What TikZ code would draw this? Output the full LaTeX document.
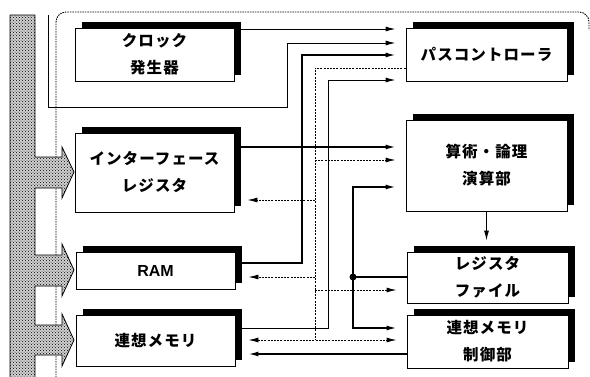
\documentclass[tikz,border=0pt]{standalone}
\usepackage{fontspec}
\newfontfamily\jpfont{Noto Sans CJK JP}[LetterSpace=7]
\newfontfamily\hvfont{Liberation Sans}
\usetikzlibrary{arrows.meta,patterns,shadows,calc}
\begin{document}
\begin{tikzpicture}[x=1pt,y=-1pt,
  blk/.style={draw,line width=0.9pt,fill=white,minimum width=159pt,inner sep=0pt,align=center,
    font=\jpfont\bfseries\fontsize{15.5}{27}\selectfont,
    drop shadow={shadow xshift=6.5pt,shadow yshift=6.5pt,fill=black,opacity=1}},
  ln/.style={line width=1pt},
  thk/.style={line width=1.5pt},
  dsh/.style={line width=0.9pt,dash pattern=on 2pt off 1.2pt},
  arr/.style={-{Latex[length=10pt,width=5pt]},shorten >=10pt},
  arrl/.style={-{Latex[length=10pt,width=5pt]},shorten >=13pt},
  frm/.style={line width=0.9pt,dash pattern=on 1.5pt off 1pt,rounded corners=10pt},
  jdot/.style={circle,fill=black,inner sep=0pt,minimum size=7pt}
]
\useasboundingbox (0,0) rectangle (590,376);

% dashed frame
\draw[frm] (56,385) -- (56,12) -- (589,12) -- (589,30);

% bus
\draw[line width=0.8pt,preaction={fill=black!18},pattern=crosshatch dots,pattern color=black]
  (10,385) -- (10,15) -- (35,15)
  -- (35,157) -- (62,157) -- (62,147) -- (74,172) -- (62,198) -- (62,188) -- (35,188)
  -- (35,255) -- (62,255) -- (62,244) -- (74,270) -- (62,296) -- (62,286) -- (35,286)
  -- (35,325) -- (62,325) -- (62,314) -- (74,340) -- (62,366) -- (62,355) -- (35,355)
  -- (35,385);

% boxes
\node[blk,minimum height=53pt] (clk) at (154.5,54.5) {クロック\\発生器};
\node[blk,minimum width=161pt,minimum height=53pt] (bc) at (486.5,54.5) {パスコントローラ};
\node[blk,minimum height=79pt] (ifr) at (154.5,172.5) {インターフェース\\レジスタ};
\node[blk,minimum width=161pt,minimum height=91pt] (alu) at (486.5,165.5) {算術・論理\\演算部};
\node[blk,minimum height=37pt,font=\hvfont\bfseries\fontsize{16}{16}\selectfont] (ram) at (155.5,270.5) {RAM};
\node[blk,minimum height=51pt] (am) at (155.5,340.5) {連想メモリ};
\node[blk,minimum width=161pt,minimum height=51pt] (rf) at (487.5,277.5) {レジスタ\\ファイル};
\node[blk,minimum width=161pt,minimum height=53pt] (amc) at (487.5,341.5) {連想メモリ\\制御部};

\coordinate (ext) at (48,15);
\coordinate (v1) at (287,107);

% clock -> bus controller
\draw[ln,arr] (clk.east |- 0,29) -- (bc.west |- 0,29);
% external line -> bus controller
\draw[ln,arr] (ext) |- (v1) |- (bc.west |- 0,43);
% RAM -> bus controller
\draw[thk,arr] (ram.east |- 0,263) -| (302,55) -- (bc.west |- 0,55);
% associative memory -> bus controller
\draw[ln,arr] (am.east |- 0,328) -| (328,80) -- (bc.west |- 0,80);

% bus controller control lines (dashed)
\draw[dsh] (bc.west |- 0,68) -| (315,340);
\draw[dsh,arr] (315,160) -- (alu.west |- 0,160);
\draw[dsh,arrl] (315,200) -- (ifr.east |- 0,200);
\draw[dsh,arrl] (315,277) -- (ram.east |- 0,277);
\draw[dsh,arr] (315,290) -- (rf.west |- 0,290);
\draw[dsh,{Latex[length=10pt,width=5pt]}-{Latex[length=10pt,width=5pt]},shorten <=13pt,shorten >=10pt]
  (am.east |- 0,340) -- (amc.west |- 0,340);

% interface register -> ALU
\draw[thk,arr] (ifr.east |- 0,147) -- (alu.west |- 0,147);

% register file junction
\node[jdot] (j) at (353,277) {};
\draw[thk] (rf.west |- j) -- (j.center);
\draw[thk,arr] (j.center) |- (alu.west |- 0,187);
\draw[thk,arr] (j.center) |- (amc.west |- 0,328);

% assoc. memory control -> assoc. memory
\draw[thk,arrl] (amc.west |- 0,354) -- (am.east |- 0,354);

% ALU -> register file
\draw[ln,-{Latex[length=10pt,width=5pt]},shorten >=11pt] (alu.south) -- (alu.south |- rf.north);
\end{tikzpicture}
\end{document}
